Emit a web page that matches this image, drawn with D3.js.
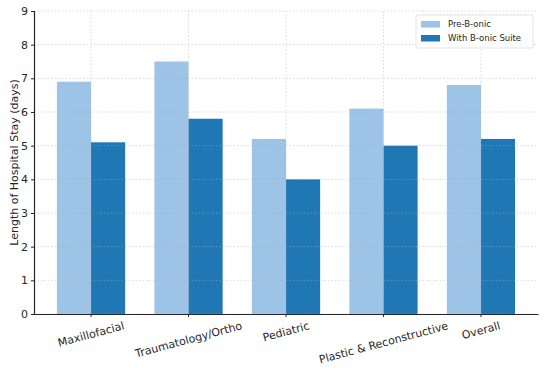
<!DOCTYPE html>
<html>
<head>
<meta charset="utf-8">
<script src="https://d3js.org/d3.v7.min.js"></script>
<style>
  body { margin: 0; background: #fff; }
  svg { font-family: "DejaVu Sans", sans-serif; }
</style>
</head>
<body>
<script>
// chart data
const categories = ["Maxillofacial", "Traumatology/Ortho", "Pediatric", "Plastic & Reconstructive", "Overall"];
const seriesNames = ["Pre-B-onic", "With B-onic Suite"];
const preValues = [6.9, 7.5, 5.2, 6.1, 6.8];
const withValues = [5.1, 5.8, 4.0, 5.0, 5.2];
const yTicks = [0, 1, 2, 3, 4, 5, 6, 7, 8, 9];

const w = 550, h = 380;
const plotLeft = 34, plotRight = 538, plotTop = 11, plotBottom = 314;
const colors = ["#9dc3e6", "#1f77b4"];

const svg = d3.select("body").append("svg")
    .attr("width", w)
    .attr("height", h);

const x = d3.scaleBand()
    .domain(categories)
    .range([plotLeft, plotRight])
    .paddingInner(0)
    .paddingOuter(0.085);

const x1 = d3.scaleBand()
    .domain(seriesNames)
    .range([x.bandwidth() * 0.15, x.bandwidth() * 0.85]);

const y = d3.scaleLinear()
    .domain([0, 9])
    .range([plotBottom, plotTop]);

const color = d3.scaleOrdinal().domain(seriesNames).range(colors);

const rows = categories.map((c, i) => ({cat: c, vals: [
  {s: seriesNames[0], v: preValues[i]},
  {s: seriesNames[1], v: withValues[i]}
]}));

// bars
svg.append("g").selectAll("g")
  .data(rows)
  .enter().append("g")
  .attr("transform", d => "translate(" + x(d.cat) + ",0)")
  .selectAll("rect")
  .data(d => d.vals)
  .enter().append("rect")
  .attr("x", d => x1(d.s))
  .attr("width", x1.bandwidth())
  .attr("y", d => y(d.v))
  .attr("height", d => y(0) - y(d.v))
  .attr("fill", d => color(d.s));

// grid
const grid = svg.append("g")
  .attr("stroke", "#b0b0b0")
  .attr("stroke-opacity", 0.6)
  .attr("stroke-width", 0.8)
  .attr("stroke-dasharray", "1.5,2");
grid.selectAll(".gy").data(yTicks).enter().append("line")
  .attr("x1", plotLeft).attr("x2", plotRight)
  .attr("y1", d => y(d)).attr("y2", d => y(d));
grid.selectAll(".gx").data(categories).enter().append("line")
  .attr("x1", d => x(d) + x.bandwidth() / 2).attr("x2", d => x(d) + x.bandwidth() / 2)
  .attr("y1", plotTop).attr("y2", plotBottom);

// y axis
const yAxis = svg.append("g")
  .attr("transform", "translate(" + plotLeft + ",0)")
  .call(d3.axisLeft(y).tickValues(yTicks).tickSize(3).tickPadding(3));
yAxis.select(".domain").attr("stroke", "#262626").attr("stroke-width", 1.2);
yAxis.selectAll(".tick line").attr("stroke", "#262626");
yAxis.selectAll("text").attr("font-size", 11).attr("fill", "#262626")
  .style("font-family", "DejaVu Sans");

// x axis
const xAxis = svg.append("g")
  .attr("transform", "translate(0," + plotBottom + ")")
  .call(d3.axisBottom(x).tickSize(3).tickSizeOuter(0));
xAxis.select(".domain").attr("stroke", "#262626").attr("stroke-width", 1.2);
xAxis.selectAll(".tick line").attr("stroke", "#262626");
xAxis.selectAll("text")
  .attr("font-size", 11)
  .attr("fill", "#262626")
  .style("font-family", "DejaVu Sans")
  .attr("text-anchor", "middle")
  .attr("y", 0)
  .attr("dy", "0.35em")
  .each(function() {
    const len = this.getComputedTextLength();
    const a = 15 * Math.PI / 180;
    const hh = len * Math.sin(a) + 11 * Math.cos(a);
    d3.select(this).attr("transform", "translate(0," + (6 + hh / 2) + ") rotate(-15)");
  });

// y label
svg.append("text")
  .attr("transform", "translate(14," + ((plotTop + plotBottom) / 2) + ") rotate(-90)")
  .attr("text-anchor", "middle")
  .attr("dy", "0.35em")
  .attr("font-size", 11)
  .attr("fill", "#262626")
  .text("Length of Hospital Stay (days)");

// legend
const lg = svg.append("g").attr("transform", "translate(416,15)");
lg.append("rect")
  .attr("width", 117).attr("height", 33).attr("rx", 2)
  .attr("fill", "#fff").attr("fill-opacity", 0.8)
  .attr("stroke", "#dcdcdc").attr("stroke-width", 0.8);
seriesNames.forEach((s, i) => {
  lg.append("rect")
    .attr("x", 5).attr("y", 6 + i * 14)
    .attr("width", 19).attr("height", 6.5)
    .attr("fill", color(s));
  lg.append("text")
    .attr("x", 32).attr("y", 9 + i * 14)
    .attr("dy", "0.35em")
    .attr("font-size", 8.5)
    .attr("fill", "#262626")
    .text(s);
});
</script>
</body>
</html>
